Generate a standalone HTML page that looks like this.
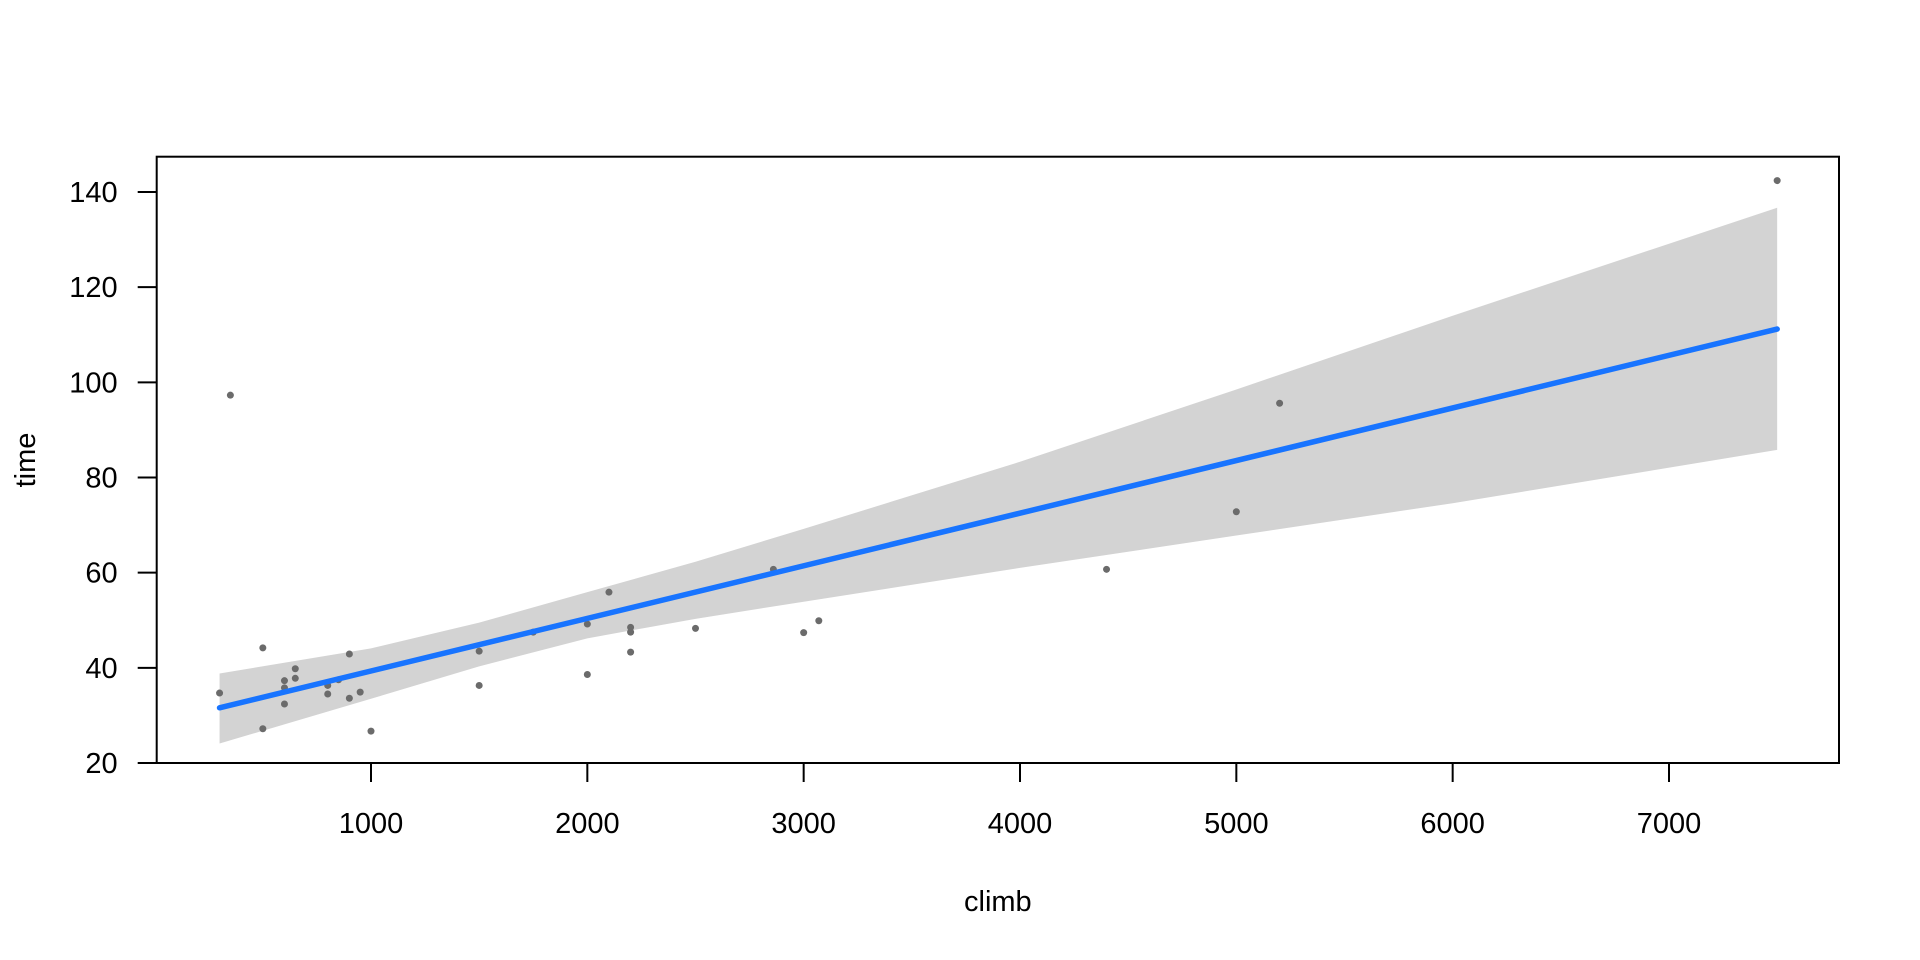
<!DOCTYPE html>
<html><head><meta charset="utf-8"><style>
html,body{margin:0;padding:0;background:#fff;}
svg{display:block;font-family:"Liberation Sans",Arial,sans-serif;}
</style></head><body>
<svg id="chart" width="1920" height="960" viewBox="0 0 1920 960"></svg>
<script>
const climbs = [300,350,500,500,600,600,600,650,650,800,800,850,900,900,950,1000,1500,1500,1750,2000,2000,2100,2200,2200,2200,2500,2860,3000,3070,4400,5000,5200,7500];
const times = [34.7,97.3,44.2,27.2,37.3,35.8,32.4,39.8,37.8,36.3,34.5,37.5,42.9,33.6,34.9,26.7,43.5,36.3,47.5,49.2,38.6,55.9,48.5,47.5,43.3,48.3,60.7,47.4,49.9,60.7,72.8,95.6,142.4];
const fitX = [300,7500];
const fitY = [31.6,111.2];
const bandX = [300,1000,1500,2000,2500,3000,4000,5000,6000,7500];
const bandUpper = [38.8,44.1,49.5,55.9,62.3,69.2,83.3,98.5,114,136.7];
const bandLower = [24.1,33.5,40.3,46.2,50.3,53.9,61,67.8,74.6,85.8];
const xTicks = [1000,2000,3000,4000,5000,6000,7000];
const yTicks = [20,40,60,80,100,120,140];

const svg = document.getElementById('chart');
const NS = 'http://www.w3.org/2000/svg';
const L=156.7,R=1839,T=156.7,B=763;
function xs(v){return 371 + (v-1000)*(1669-371)/6000;}
function ys(v){return 763 - (v-20)*(763-192)/120;}
function mk(tag,attrs){const e=document.createElementNS(NS,tag);for(const k in attrs)e.setAttribute(k,attrs[k]);svg.appendChild(e);return e;}

let pts = bandX.map((x,i)=>xs(x)+','+ys(bandUpper[i]));
pts = pts.concat(bandX.slice().reverse().map((x,i)=>xs(x)+','+ys(bandLower[bandX.length-1-i])));
const band = mk('polygon',{points:pts.join(' '),fill:'#d3d3d3'});



climbs.forEach((c,i)=>{
  const p = mk('circle',{cx:xs(c),cy:ys(times[i]),r:3.5,fill:'#6b6b6b'});
  
  
});

const line = mk('line',{x1:xs(fitX[0]),y1:ys(fitY[0]),x2:xs(fitX[1]),y2:ys(fitY[1]),stroke:'#1874ff','stroke-width':5.5,'stroke-linecap':'round'});



const box = mk('rect',{x:L,y:T,width:R-L,height:B-T,fill:'none',stroke:'#000','stroke-width':2});



xTicks.forEach(v=>{
  const t = mk('line',{x1:xs(v),y1:B,x2:xs(v),y2:B+19,stroke:'#000','stroke-width':2});
  
  
  const l = mk('text',{x:xs(v),y:B+70,'text-anchor':'middle','font-size':29,fill:'#000'});
  l.textContent = v;
  
  
});
yTicks.forEach(v=>{
  const t = mk('line',{x1:L-19,y1:ys(v),x2:L,y2:ys(v),stroke:'#000','stroke-width':2});
  
  
  const l = mk('text',{x:L-39,y:ys(v)+10,'text-anchor':'end','font-size':29,fill:'#000'});
  l.textContent = v;
  
  
});
const xt = mk('text',{x:(L+R)/2,y:911,'text-anchor':'middle','font-size':29,fill:'#000'});
xt.textContent='climb';


const yt = mk('text',{x:0,y:0,'text-anchor':'middle','font-size':29,fill:'#000',transform:'translate(35,460) rotate(-90)'});
yt.textContent='time';


</script>
</body></html>
